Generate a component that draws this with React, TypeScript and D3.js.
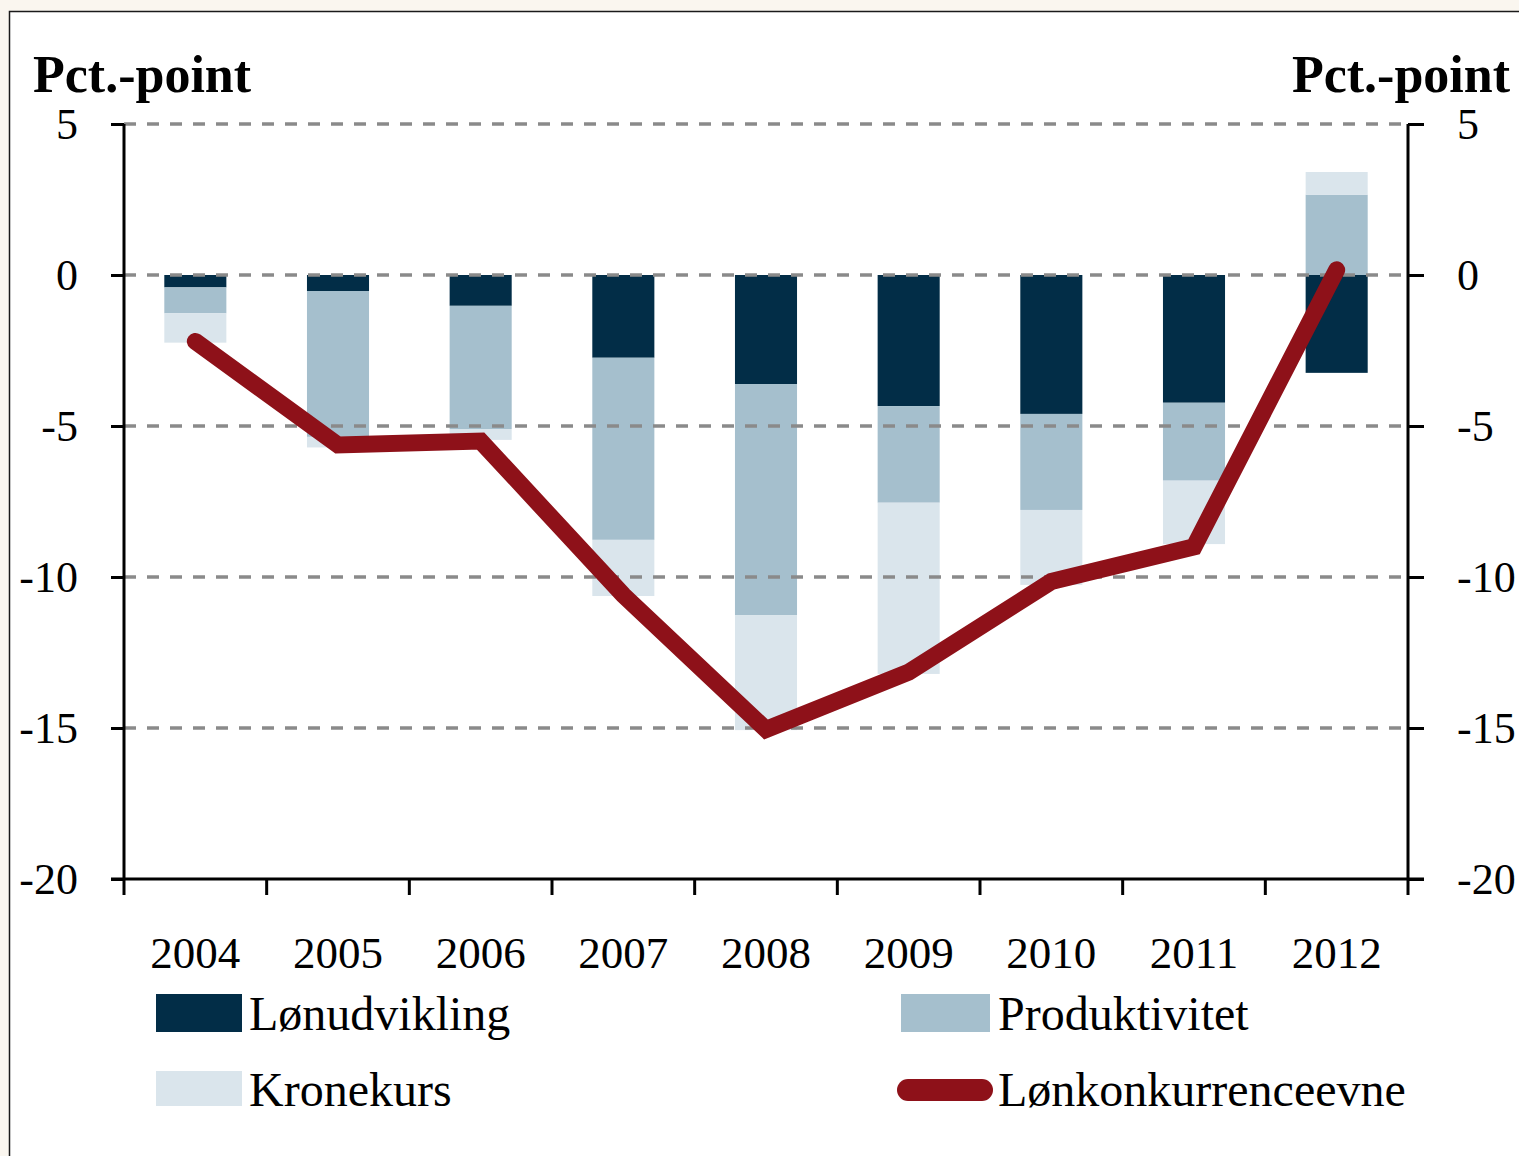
import React, { useEffect, useRef } from "react";
import * as d3 from "d3";

const years = ["2004", "2005", "2006", "2007", "2008", "2009", "2010", "2011", "2012"];
const lonudvikling = [-0.41, -0.53, -1.02, -2.74, -3.61, -4.34, -4.6, -4.23, -3.24];
const produktivitet = [-0.86, -4.83, -4.08, -6.03, -7.65, -3.2, -3.18, -2.58, 2.66];
const kronekurs = [-0.97, -0.35, -0.36, -1.86, -3.81, -5.67, -2.48, -2.1, 0.75];
const lonkonkurrenceevne = [-2.2, -5.63, -5.5, -10.6, -15.05, -13.15, -10.15, -9.0, 0.17];
const yTicks = [5, 0, -5, -10, -15, -20];
const seriesNames = ["Lønudvikling", "Produktivitet", "Kronekurs"];
const lineName = "Lønkonkurrenceevne";
const unitLabel = "Pct.-point";

const colors: Record<string, string> = {
  Lønudvikling: "#022d47",
  Produktivitet: "#a5bfcd",
  Kronekurs: "#dae5ec",
};
const lineColor = "#8e1119";
const font = "'Liberation Serif', 'Times New Roman', serif";

const App = () => {
  const svgRef = useRef<SVGSVGElement>(null);

  useEffect(() => {
    const width = 1519;
    const height = 1156;
    const left = 124;
    const right = 1408;
    const top = 124;
    const bottom = 879;

    const svg = d3.select(svgRef.current)
      .attr("width", width)
      .attr("height", height);
    svg.selectAll("*").remove();

    // page + framed panel
    svg.append("rect").attr("width", width).attr("height", height).attr("fill", "#faf6ef");
    svg.append("rect")
      .attr("x", 9.5).attr("y", 11.5)
      .attr("width", width + 20).attr("height", height + 20)
      .attr("fill", "#fff").attr("stroke", "#1a1a1a").attr("stroke-width", 1.5);

    const x = d3.scaleBand()
      .domain(years)
      .range([left, right])
      .paddingInner(0.565)
      .paddingOuter(0.2825);

    const y = d3.scaleLinear().domain([-20, 5]).range([bottom, top]);

    const rows = years.map((yr, i) => ({
      year: yr,
      Lønudvikling: lonudvikling[i],
      Produktivitet: produktivitet[i],
      Kronekurs: kronekurs[i],
    }));

    const stacked = d3.stack<any>()
      .keys(seriesNames)
      .offset(d3.stackOffsetDiverging)(rows);

    // bars
    svg.append("g")
      .selectAll("g")
      .data(stacked)
      .join("g")
      .attr("fill", d => colors[d.key])
      .selectAll("rect")
      .data(d => d)
      .join("rect")
      .attr("x", d => x(d.data.year)!)
      .attr("width", x.bandwidth())
      .attr("y", d => y(Math.max(d[0], d[1])))
      .attr("height", d => Math.abs(y(d[0]) - y(d[1])));

    // dashed grid
    svg.append("g")
      .selectAll("line")
      .data(yTicks.filter(t => t > -20))
      .join("line")
      .attr("x1", left).attr("x2", right)
      .attr("y1", d => y(d)).attr("y2", d => y(d))
      .attr("stroke", "#8a8a8a")
      .attr("stroke-width", 3.5)
      .attr("stroke-dasharray", "12 11");

    // axes
    const tickFmt = (d: any) => String(d);
    const yl = svg.append("g")
      .attr("transform", `translate(${left},0)`)
      .call(d3.axisLeft(y).tickValues(yTicks).tickSize(13).tickPadding(33).tickFormat(tickFmt));
    const yr = svg.append("g")
      .attr("transform", `translate(${right},0)`)
      .call(d3.axisRight(y).tickValues(yTicks).tickSize(16).tickPadding(33).tickFormat(tickFmt));
    [yl, yr].forEach(g => {
      g.select(".domain").attr("stroke", "#000").attr("stroke-width", 3).attr("d", `M0,${top}V${bottom}`);
      g.selectAll(".tick line").attr("stroke", "#000").attr("stroke-width", 3);
      g.selectAll(".tick text")
        .attr("fill", "#000")
        .attr("font-family", font)
        .attr("font-size", 44)
        .attr("dy", "0.34em");
    });

    const boundaries = d3.range(years.length + 1).map(i => left + i * x.step());
    svg.append("line")
      .attr("x1", left - 13).attr("x2", right + 16)
      .attr("y1", bottom).attr("y2", bottom)
      .attr("stroke", "#000").attr("stroke-width", 3);
    svg.append("g")
      .selectAll("line")
      .data(boundaries)
      .join("line")
      .attr("x1", d => d).attr("x2", d => d)
      .attr("y1", bottom).attr("y2", bottom + 16)
      .attr("stroke", "#000").attr("stroke-width", 3);

    svg.append("g")
      .selectAll("text")
      .data(years)
      .join("text")
      .attr("x", d => x(d)! + x.bandwidth() / 2)
      .attr("y", 968)
      .attr("text-anchor", "middle")
      .attr("font-family", font)
      .attr("font-size", 45)
      .text(d => d);

    // line
    const line = d3.line<number>()
      .x((_, i) => x(years[i])! + x.bandwidth() / 2)
      .y(d => y(d));
    svg.append("path")
      .datum(lonkonkurrenceevne)
      .attr("fill", "none")
      .attr("stroke", lineColor)
      .attr("stroke-width", 17)
      .attr("stroke-linecap", "round")
      .attr("stroke-linejoin", "miter")
      .attr("d", line);

    // unit labels
    svg.append("text")
      .attr("x", 33).attr("y", 92)
      .attr("font-family", font).attr("font-weight", "bold").attr("font-size", 52)
      .text(unitLabel);
    svg.append("text")
      .attr("x", 1510).attr("y", 92)
      .attr("text-anchor", "end")
      .attr("font-family", font).attr("font-weight", "bold").attr("font-size", 52)
      .text(unitLabel);

    // legend
    const legendItems = [
      { name: seriesNames[0], x: 156, y: 994, tx: 93, type: "rect" },
      { name: seriesNames[1], x: 901, y: 994, tx: 97, type: "rect" },
      { name: seriesNames[2], x: 156, y: 1071, tx: 93, type: "rect" },
      { name: lineName, x: 901, y: 1071, tx: 97, type: "line" },
    ];
    const lg = svg.append("g")
      .selectAll("g")
      .data(legendItems)
      .join("g")
      .attr("transform", d => `translate(${d.x},${d.y})`);
    lg.filter(d => d.type === "rect")
      .append("rect")
      .attr("width", d => (d.x > 500 ? 89 : 86)).attr("height", d => (d.y > 1000 ? 35 : 38))
      .attr("fill", d => colors[d.name]);
    lg.filter(d => d.type === "line")
      .append("line")
      .attr("x1", 7).attr("x2", 81)
      .attr("y1", 19).attr("y2", 19)
      .attr("stroke", lineColor).attr("stroke-width", 22).attr("stroke-linecap", "round");
    lg.append("text")
      .attr("x", d => d.tx).attr("y", d => (d.y > 1000 ? 35 : 36))
      .attr("font-family", font)
      .attr("font-size", 48)
      .text(d => d.name);
  }, []);

  return <svg ref={svgRef} style={{ position: "absolute", left: 0, top: 0, display: "block" }}></svg>;
};

export default App;
